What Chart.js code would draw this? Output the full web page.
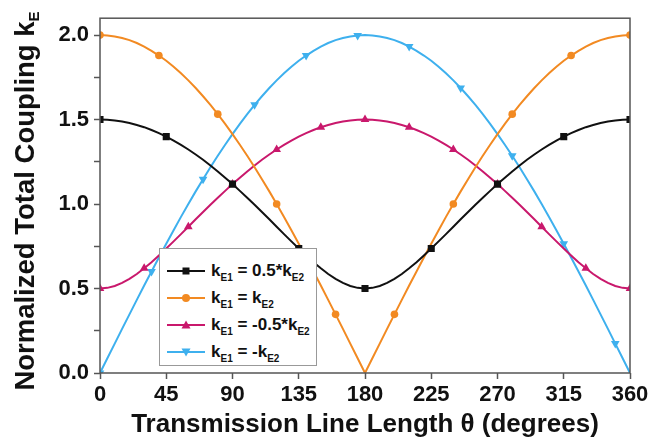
<!DOCTYPE html>
<html>
<head>
<meta charset="utf-8">
<script src="https://cdn.jsdelivr.net/npm/chart.js@4.4.1/dist/chart.umd.min.js"></script>
<style>
  html, body { margin: 0; padding: 0; background: #fff; }
  #wrap { position: relative; width: 667px; height: 447px; font-family: "Liberation Sans", Arial, sans-serif; color: #111; }
  #yTitle {
    position: absolute; left: -175px; top: 186px; width: 400px; height: 30px; line-height: 30px;
    text-align: center; transform: rotate(-90deg); font-weight: bold; font-size: 27.5px; white-space: nowrap;
  }
  #yTitle sub { font-size: 15px; vertical-align: -5px; line-height: 0; }
  #legend {
    position: absolute; left: 159px; top: 248px; width: 158px; height: 118px; box-sizing: border-box;
    border: 1px solid #999; background: #fff; z-index: 2;
  }
  .row { position: absolute; left: 0; height: 20px; width: 156px; }
  .row svg { position: absolute; left: 7px; top: 4px; }
  .row span { position: absolute; left: 51px; top: 0; font-weight: bold; font-size: 17px; line-height: 20px; white-space: nowrap; }
  .row sub { font-size: 10px; vertical-align: -5px; line-height: 0; }
</style>
</head>
<body>
<div id="wrap">
  <canvas id="chart" width="667" height="447"></canvas>
  <div id="yTitle">Normalized Total Coupling k<sub>E</sub></div>
  <div id="legend"></div>
</div>
<script>
// --- DATA ---
const theta = [0, 5, 10, 15, 20, 25, 30, 35, 40, 45, 50, 55, 60, 65, 70, 75, 80, 85, 90,
  95, 100, 105, 110, 115, 120, 125, 130, 135, 140, 145, 150, 155, 160, 165, 170, 175, 180,
  185, 190, 195, 200, 205, 210, 215, 220, 225, 230, 235, 240, 245, 250, 255, 260, 265, 270,
  275, 280, 285, 290, 295, 300, 305, 310, 315, 320, 325, 330, 335, 340, 345, 350, 355, 360];

const halfPositive = [1.500, 1.499, 1.495, 1.489, 1.480, 1.468, 1.455, 1.438, 1.420, 1.399, 1.376, 1.350, 1.323, 1.293, 1.262, 1.228, 1.193, 1.156, 1.118,
  1.078, 1.037, 0.996, 0.953, 0.910, 0.866, 0.822, 0.779, 0.737, 0.696, 0.656, 0.620, 0.586, 0.557, 0.533, 0.515, 0.504, 0.500,
  0.504, 0.515, 0.533, 0.557, 0.586, 0.620, 0.656, 0.696, 0.737, 0.779, 0.822, 0.866, 0.910, 0.953, 0.996, 1.037, 1.078, 1.118,
  1.156, 1.193, 1.228, 1.262, 1.293, 1.323, 1.350, 1.376, 1.399, 1.420, 1.438, 1.455, 1.468, 1.480, 1.489, 1.495, 1.499, 1.500];

const equal = [2.000, 1.998, 1.992, 1.983, 1.970, 1.953, 1.932, 1.907, 1.879, 1.848, 1.813, 1.774, 1.732, 1.687, 1.638, 1.587, 1.532, 1.475, 1.414,
  1.351, 1.286, 1.218, 1.147, 1.075, 1.000, 0.924, 0.845, 0.765, 0.684, 0.601, 0.518, 0.433, 0.347, 0.261, 0.174, 0.087, 0.000,
  0.087, 0.174, 0.261, 0.347, 0.433, 0.518, 0.601, 0.684, 0.765, 0.845, 0.924, 1.000, 1.075, 1.147, 1.218, 1.286, 1.351, 1.414,
  1.475, 1.532, 1.587, 1.638, 1.687, 1.732, 1.774, 1.813, 1.848, 1.879, 1.907, 1.932, 1.953, 1.970, 1.983, 1.992, 1.998, 2.000];

const halfNegative = [0.500, 0.504, 0.515, 0.533, 0.557, 0.586, 0.620, 0.656, 0.696, 0.737, 0.779, 0.822, 0.866, 0.910, 0.953, 0.996, 1.037, 1.078, 1.118,
  1.156, 1.193, 1.228, 1.262, 1.293, 1.323, 1.350, 1.376, 1.399, 1.420, 1.438, 1.455, 1.468, 1.480, 1.489, 1.495, 1.499, 1.500,
  1.499, 1.495, 1.489, 1.480, 1.468, 1.455, 1.438, 1.420, 1.399, 1.376, 1.350, 1.323, 1.293, 1.262, 1.228, 1.193, 1.156, 1.118,
  1.078, 1.037, 0.996, 0.953, 0.910, 0.866, 0.822, 0.779, 0.737, 0.696, 0.656, 0.620, 0.586, 0.557, 0.533, 0.515, 0.504, 0.500];

const opposite = [0.000, 0.087, 0.174, 0.261, 0.347, 0.433, 0.518, 0.601, 0.684, 0.765, 0.845, 0.924, 1.000, 1.075, 1.147, 1.218, 1.286, 1.351, 1.414,
  1.475, 1.532, 1.587, 1.638, 1.687, 1.732, 1.774, 1.813, 1.848, 1.879, 1.907, 1.932, 1.953, 1.970, 1.983, 1.992, 1.998, 2.000,
  1.998, 1.992, 1.983, 1.970, 1.953, 1.932, 1.907, 1.879, 1.848, 1.813, 1.774, 1.732, 1.687, 1.638, 1.587, 1.532, 1.475, 1.414,
  1.351, 1.286, 1.218, 1.147, 1.075, 1.000, 0.924, 0.845, 0.765, 0.684, 0.601, 0.518, 0.433, 0.347, 0.261, 0.174, 0.087, 0.000];

const xTicks = [0, 45, 90, 135, 180, 225, 270, 315, 360];
const yTicks = [0, 0.5, 1.0, 1.5, 2.0];

// legend labels: [main, sub, main, sub]
const series = [
  { label: ['k', 'E1', ' = 0.5*k', 'E2'], data: halfPositive, color: '#111111', style: 'rect', radius: 5, rot: 0, every: 45 },
  { label: ['k', 'E1', ' = k', 'E2'], data: equal, color: '#f28a22', style: 'circle', radius: 3.8, rot: 0, every: 40 },
  { label: ['k', 'E1', ' = -0.5*k', 'E2'], data: halfNegative, color: '#c9186c', style: 'triangle', radius: 5, rot: 0, every: 30 },
  { label: ['k', 'E1', ' = -k', 'E2'], data: opposite, color: '#3eb0ee', style: 'triangle', radius: 5, rot: 180, every: 35 }
];

Chart.defaults.font.family = '"Liberation Sans", Arial, sans-serif';
Chart.defaults.color = '#111';

// frame round the plot area
const framePlugin = {
  id: 'frame',
  afterDraw(chart) {
    const { ctx, chartArea: a } = chart;
    ctx.save();
    ctx.strokeStyle = '#555';
    ctx.lineWidth = 1.5;
    ctx.strokeRect(a.left, a.top, a.right - a.left, a.bottom - a.top);
    ctx.restore();
  }
};

const datasets = series.map(s => ({
  label: s.label.join(''),
  data: s.data.map((v, i) => ({ x: theta[i], y: v })),
  borderColor: s.color,
  backgroundColor: s.color,
  borderWidth: 2,
  tension: 0,
  pointStyle: s.style,
  pointRotation: s.rot,
  pointRadius: ctx => (theta[ctx.dataIndex] % s.every === 0 ? s.radius : 0),
  pointBorderWidth: 0
}));

new Chart(document.getElementById('chart'), {
  type: 'line',
  data: { datasets },
  options: {
    responsive: false,
    animation: false,
    layout: { padding: { left: 0, top: 6, right: 37, bottom: 0 } },
    plugins: { legend: { display: false }, tooltip: { enabled: false } },
    scales: {
      x: {
        type: 'linear', min: 0, max: 360,
        afterBuildTicks: scale => { scale.ticks = xTicks.map(v => ({ value: v })); },
        afterFit: scale => { scale.height = 74; },
        ticks: { font: { size: 22, weight: 'bold' }, padding: 3, maxRotation: 0 },
        grid: { drawOnChartArea: false, tickLength: 6, tickColor: '#555', tickWidth: 1.5 },
        border: { display: false },
        title: { display: true, text: 'Transmission Line Length θ (degrees)', font: { size: 26, weight: 'bold' }, padding: { top: 0, bottom: 7 } }
      },
      y: {
        type: 'linear', min: 0, max: 2.1,
        afterBuildTicks: scale => {
          const t = [];
          for (let i = 0; i < yTicks.length; i++) {
            t.push({ value: yTicks[i] });
            if (i < yTicks.length - 1) t.push({ value: (yTicks[i] + yTicks[i + 1]) / 2, minor: true });
          }
          scale.ticks = t;
        },
        afterFit: scale => { scale.width = 100; },
        ticks: {
          font: { size: 22, weight: 'bold' }, padding: 5,
          callback: function (v) { return yTicks.includes(v) ? v.toFixed(1) : ''; }
        },
        grid: { drawOnChartArea: false, tickLength: 6, tickColor: '#555', tickWidth: 1.5 },
        border: { display: false }
      }
    }
  },
  plugins: [framePlugin]
});

// --- HTML legend (needs subscripts) ---
function markerSvg(s) {
  let m = '';
  if (s.style === 'rect') m = '<rect x="15.5" y="2.5" width="7" height="7" fill="' + s.color + '"/>';
  else if (s.style === 'circle') m = '<circle cx="19" cy="6" r="4" fill="' + s.color + '"/>';
  else if (s.rot === 0) m = '<polygon points="19,1.5 23.5,9.5 14.5,9.5" fill="' + s.color + '"/>';
  else m = '<polygon points="19,10.5 23.5,2.5 14.5,2.5" fill="' + s.color + '"/>';
  return '<svg width="40" height="12"><line x1="0" y1="6" x2="38" y2="6" stroke="' + s.color + '" stroke-width="2"/>' + m + '</svg>';
}
const legend = document.getElementById('legend');
const rowCenters = [22, 49, 76, 103];
series.forEach((s, i) => {
  const row = document.createElement('div');
  row.className = 'row';
  row.style.top = (rowCenters[i] - 10) + 'px';
  row.innerHTML = markerSvg(s) + '<span>' + s.label[0] + '<sub>' + s.label[1] + '</sub>' + s.label[2] + '<sub>' + s.label[3] + '</sub></span>';
  legend.appendChild(row);
});
</script>
</body>
</html>
